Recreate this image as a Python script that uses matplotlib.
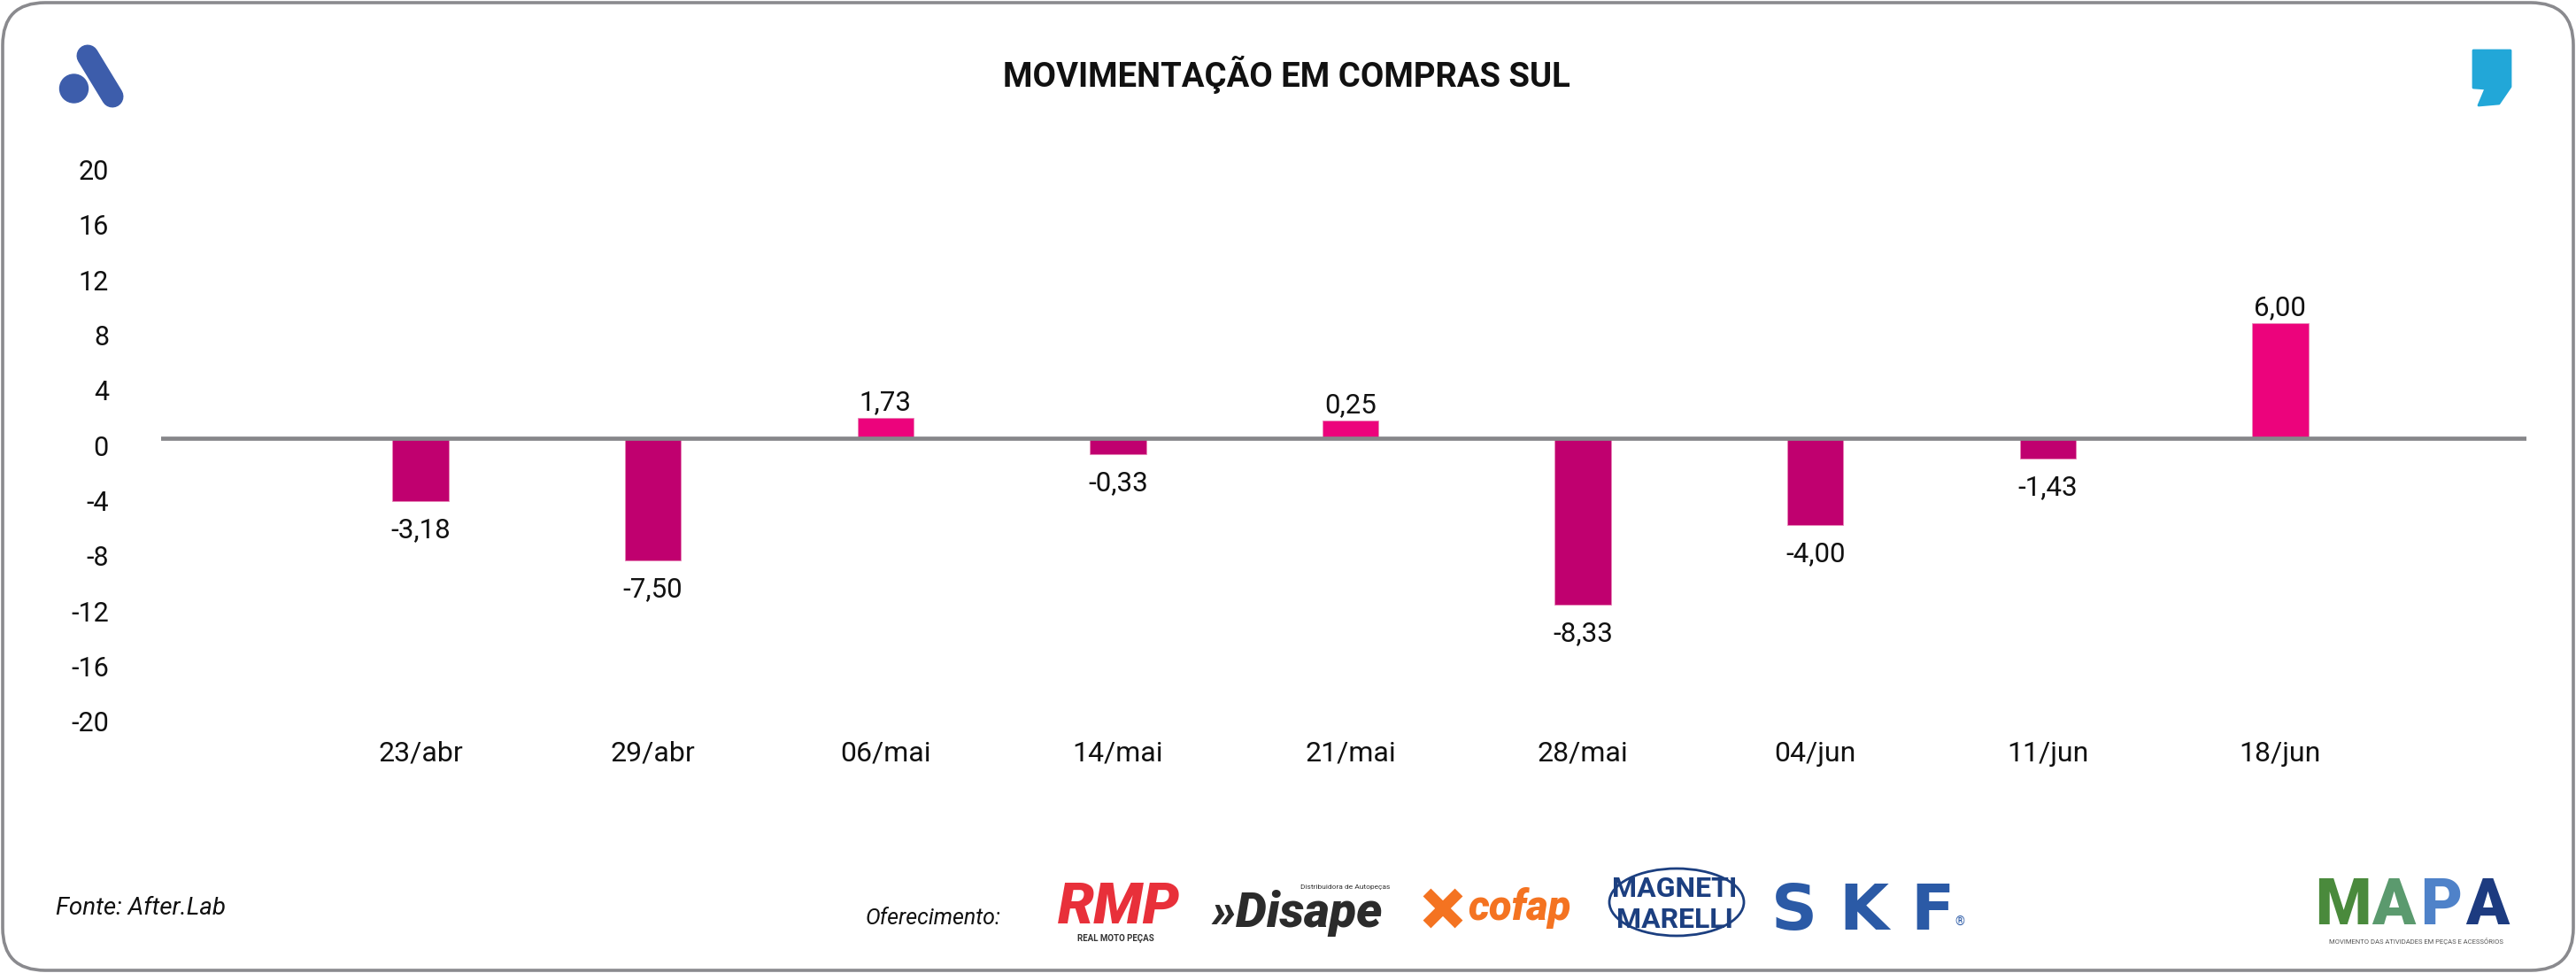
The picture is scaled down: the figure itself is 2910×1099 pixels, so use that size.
import matplotlib
matplotlib.use('Agg')
import matplotlib.pyplot as plt
from matplotlib.patches import FancyBboxPatch, Circle, Polygon, Ellipse
from matplotlib.lines import Line2D
from matplotlib.transforms import ScaledTranslation

plt.rcParams['font.family'] = ['Roboto', 'DejaVu Sans']

# data
categories = ['23/abr', '29/abr', '06/mai', '14/mai', '21/mai', '28/mai', '04/jun', '11/jun', '18/jun']
bar_heights = [-4.58, -8.87, 1.46, -1.16, 1.26, -12.10, -6.33, -1.50, 8.32]
value_labels = ['-3,18', '-7,50', '1,73', '-0,33', '0,25', '-8,33', '-4,00', '-1,43', '6,00']
y_ticks = [20, 16, 12, 8, 4, 0, -4, -8, -12, -16, -20]

POS = '#ec037c'
NEG = '#c0006f'
GRAY = '#87878a'

W, H = 2910, 1099
fig = plt.figure(figsize=(W / 100, H / 100), dpi=100)
fig.patch.set_facecolor('white')

# overlay in image pixel coords (y downwards) for frame, logos and texts
ov = fig.add_axes([0, 0, 1, 1], zorder=0)
ov.set_xlim(0, W)
ov.set_ylim(H, 0)
ov.axis('off')

ov.add_patch(FancyBboxPatch((3, 3), W - 6, H - 6, boxstyle='round,pad=0,rounding_size=48',
                            fc='white', ec='#8a8a8e', lw=2.6))

# top-left "A" logo
ov.add_line(Line2D([99, 127], [63, 109], lw=18, color='#3d5dab', solid_capstyle='round'))
ov.add_patch(Circle((83.5, 100), 16, color='#3d5dab'))

# top-right comma
ov.add_patch(Polygon([(2794, 57), (2836, 57), (2836, 98), (2823, 117), (2800, 119),
                      (2808, 100), (2794, 99)], closed=True, fc='#22a7d8', ec='#22a7d8',
                     lw=2, joinstyle='round'))

ov.text(1453, 84, 'MOVIMENTAÇÃO EM COMPRAS SUL', ha='center', va='center',
        fontsize=27.5, fontweight='bold', color='#111111')

ov.text(63, 1026, 'Fonte: After.Lab', ha='left', va='center', fontsize=20,
        style='italic', color='#111111')
ov.text(978, 1037, 'Oferecimento:', ha='left', va='center', fontsize=18,
        style='italic', color='#111111')

# sponsor logos as text
ov.text(1264, 1043, 'RMP', ha='center', va='baseline', fontsize=47, fontweight='black',
        style='italic', color='#e8303a')
ov.text(1260, 1063, 'REAL MOTO PEÇAS', ha='center', va='baseline', fontsize=7,
        fontweight='bold', color='#333333')

ov.text(1369, 1047, '»Disape', ha='left', va='baseline', fontsize=40, fontweight='black',
        style='italic', color='#2b2b2b')
ov.text(1570, 1004, 'Distribuidora de Autopeças', ha='right', va='baseline', fontsize=6,
        color='#333333')

ov.add_line(Line2D([1612, 1648], [1008, 1044], lw=9, color='#f47321', solid_capstyle='butt'))
ov.add_line(Line2D([1612, 1648], [1044, 1008], lw=9, color='#f47321', solid_capstyle='butt'))
ov.text(1659, 1039, 'cofap', ha='left', va='baseline', fontsize=34, fontweight='black',
        style='italic', color='#f47321')

ov.add_patch(Ellipse((1894, 1019), 152, 76, fc='none', ec='#1c3f80', lw=2))
ov.text(1892, 1013, 'MAGNETI', ha='center', va='baseline', fontsize=23,
        fontweight='bold', color='#1c3f80')
ov.text(1892, 1048, 'MARELLI', ha='center', va='baseline', fontsize=23,
        fontweight='bold', color='#1c3f80')

for letter, cx in zip('SKF', [2027, 2105, 2183]):
    ov.text(cx, 1050, letter, ha='center', va='baseline', fontsize=52,
            fontweight='bold', color='#2b5aa6', family='DejaVu Sans')
ov.text(2214, 1046, '®', ha='center', va='baseline', fontsize=10, color='#2b5aa6')

for letter, cx, col in zip('MAPA', [2647, 2704, 2758, 2810],
                           ['#4a8a3c', '#5b9a6e', '#4f82c9', '#1d3b80']):
    ov.text(cx, 1044, letter, ha='center', va='baseline', fontsize=52,
            fontweight='black', color=col)
ov.text(2729, 1066, 'MOVIMENTO DAS ATIVIDADES EM PEÇAS E ACESSÓRIOS', ha='center',
        va='baseline', fontsize=5.5, color='#555555')

# main chart
left, right, top, bottom = 182, 2854, 180, 830
ax = fig.add_axes([left / W, 1 - bottom / H, (right - left) / W, (bottom - top) / H], zorder=1)
ax.patch.set_visible(False)
for s in ax.spines.values():
    s.set_visible(False)

x = list(range(len(categories)))
colors = [POS if v > 0 else NEG for v in bar_heights]
ax.bar(x, bar_heights, width=0.242, color=colors, edgecolor='#e887b8', linewidth=0.6, zorder=2)
ax.axhline(0, color=GRAY, lw=3.4, zorder=3)

ax.set_xlim(-1.116, 9.059)
ax.set_ylim(-21.52, 20.2)

ax.set_yticks(y_ticks)
ax.set_yticklabels([str(t) for t in y_ticks])
ax.tick_params(axis='y', length=0, pad=42.5, labelsize=22, labelcolor='#111111')
shift = ScaledTranslation(0, -0.115, fig.dpi_scale_trans)
for lab in ax.get_yticklabels():
    lab.set_va('center')
    lab.set_transform(lab.get_transform() + shift)

ax.set_xticks(x)
ax.set_xticklabels(categories)
ax.tick_params(axis='x', length=0, pad=4.7, labelsize=23, labelcolor='#111111')

for i, (v, lbl) in enumerate(zip(bar_heights, value_labels)):
    dy = 12.5 if v > 0 else -23.5
    ax.annotate(lbl, (i, v), xytext=(0, dy), textcoords='offset points',
                ha='center', va='center', fontsize=22.5, color='#111111')

fig.savefig('out.png', dpi=100)
